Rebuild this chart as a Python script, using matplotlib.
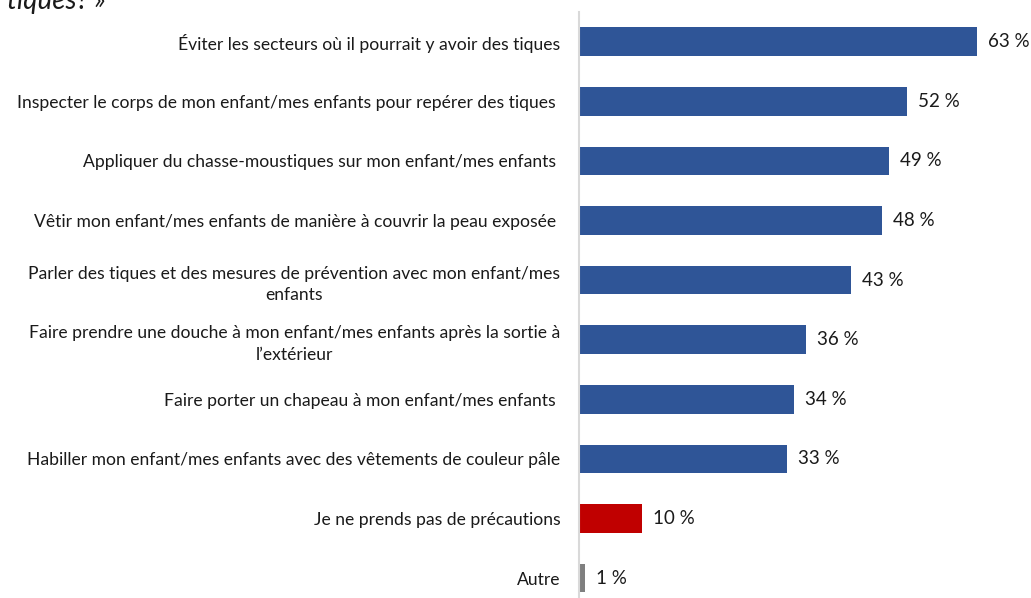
import numpy as np
import matplotlib.pyplot as plt

# data
labels = [
    "Éviter les secteurs où il pourrait y avoir des tiques",
    "Inspecter le corps de mon enfant/mes enfants pour repérer des tiques ",
    "Appliquer du chasse-moustiques sur mon enfant/mes enfants ",
    "Vêtir mon enfant/mes enfants de manière à couvrir la peau exposée ",
    "Parler des tiques et des mesures de prévention avec mon enfant/mes\nenfants",
    "Faire prendre une douche à mon enfant/mes enfants après la sortie à\nl’extérieur",
    "Faire porter un chapeau à mon enfant/mes enfants ",
    "Habiller mon enfant/mes enfants avec des vêtements de couleur pâle",
    "Je ne prends pas de précautions",
    "Autre",
]
values = [63, 52, 49, 48, 43, 36, 34, 33, 10, 1]
colors = ['#2F5597'] * 8 + ['#C00000', '#7F7F7F']

plt.rcParams['font.family'] = ['Lato', 'DejaVu Sans']

fig = plt.figure(figsize=(10.31, 5.98), dpi=100)
ax = fig.add_axes([579 / 1031, 1 - 607.8 / 598, 1 - 579 / 1031, 595.8 / 598])

y = np.arange(len(values))
ax.barh(y, values, height=0.48, color=colors)
ax.set_ylim(len(values) - 0.5, -0.5)
ax.set_xlim(0, 71.55)

ax.set_yticks(y)
ax.set_yticklabels(labels, fontsize=12.6, color='#1a1a1a', linespacing=1.45)
for tl in ax.get_yticklabels():
    tl.set_multialignment('center')
ax.tick_params(axis='y', length=0, pad=13.5)
ax.set_xticks([])

for s in ['top', 'right', 'bottom']:
    ax.spines[s].set_visible(False)
ax.spines['left'].set_color('#D9D9D9')
ax.spines['left'].set_linewidth(1.5)

for yi, v in zip(y, values):
    ax.annotate("%d %%" % v, (v, yi), xytext=(11, 0), textcoords='offset pixels',
                va='center', ha='left', fontsize=13.5, color='#1a1a1a')

# tail of the title, cut off by the top edge as in the original
fig.text(7 / 1031, 1 - 9 / 598, "tiques? »", fontsize=20, style='italic',
         va='baseline', ha='left', color='#1a1a1a')

plt.savefig("out.png", dpi=100)
